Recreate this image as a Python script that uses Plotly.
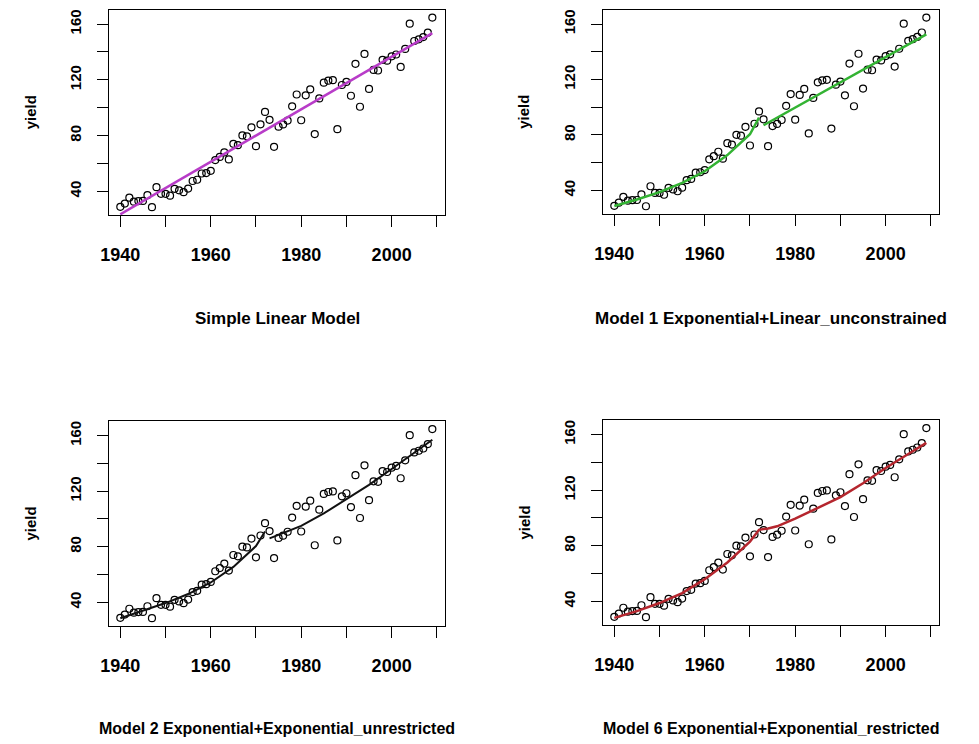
import plotly.graph_objects as go

# ---- observed data: yield by year ----
years = list(range(1940, 2010))
yield_obs = [28.9, 31.2, 35.4, 32.6, 33.0, 33.1, 37.2, 28.6, 43.0, 38.2,
             38.2, 36.9, 41.8, 40.7, 39.4, 42.0, 47.4, 48.3, 52.8, 53.1,
             54.7, 62.4, 64.7, 67.9, 62.9, 74.1, 73.1, 80.1, 79.5, 85.9,
             72.4, 88.1, 97.0, 91.3, 71.9, 86.4, 88.0, 90.8, 101.0, 109.5,
             91.0, 108.9, 113.2, 81.1, 106.7, 118.0, 119.4, 119.8, 84.6, 116.3,
             118.5, 108.6, 131.5, 100.7, 138.6, 113.5, 127.1, 126.7, 134.4, 133.8,
             136.9, 138.2, 129.3, 142.2, 160.3, 147.9, 149.1, 150.7, 153.9, 164.7]

# ---- fitted curves ----
lin_years = [1940, 2009]
lin_fit = [23.5, 153.5]

m1_years_a = [1940, 1945, 1950, 1955, 1960, 1965, 1970, 1972]
m1_fit_a = [28.8, 33.5, 38.8, 45.5, 53.8, 65.5, 80.5, 92.5]
m1_years_b = [1973, 2009]
m1_fit_b = [87.0, 152.5]

m2_years_a = [1940, 1945, 1950, 1955, 1960, 1965, 1970, 1972]
m2_fit_a = [28.6, 33.8, 39.5, 46.0, 54.3, 65.5, 80.5, 91.0]
m2_years_b = [1973, 1980, 1985, 1990, 1995, 2000, 2005, 2009]
m2_fit_b = [86.0, 95.0, 104.0, 114.0, 124.5, 136.0, 148.0, 157.0]

m6_years = [1940, 1945, 1950, 1955, 1960, 1965, 1970, 1972, 1974, 1976,
            1980, 1985, 1990, 1995, 2000, 2005, 2009]
m6_fit = [28.1, 33.0, 38.8, 46.0, 56.0, 68.0, 83.0, 91.5, 92.5, 94.0,
          99.5, 107.0, 115.0, 125.0, 136.0, 146.0, 154.0]

titles = ["Simple Linear Model",
          "Model 1 Exponential+Linear_unconstrained",
          "Model 2 Exponential+Exponential_unrestricted",
          "Model 6 Exponential+Exponential_restricted"]

x_ticks = [1940, 1950, 1960, 1970, 1980, 1990, 2000, 2010]
x_ticktext = ["1940", "", "1960", "", "1980", "", "2000", ""]
y_ticks = [40, 60, 80, 100, 120, 140, 160]
y_ticktext = ["40", "", "80", "", "120", "", "160"]

OFF = 8                      # page body margin
W, H = 979 - OFF, 744 - OFF  # figure size
FONT = "Liberation Sans, Arial, sans-serif"

fig = go.Figure()

# panel geometry in page pixels: (left, right, top, bottom)
panels = [(109, 445, 9.5, 215), (603, 939, 9.5, 214),
          (109, 445, 421, 626), (603, 939, 420, 625)]

fits = [
    [(lin_years, lin_fit, "#B83CC8", 2.5)],
    [(m1_years_a, m1_fit_a, "#33B333", 2.5), (m1_years_b, m1_fit_b, "#33B333", 2.5)],
    [(m2_years_a, m2_fit_a, "#111111", 2.0), (m2_years_b, m2_fit_b, "#111111", 2.0)],
    [(m6_years, m6_fit, "#B5262E", 2.5)],
]

def px(v):
    return v / W

def py(v):
    return 1 - v / H

for i, (l, r, t, b) in enumerate(panels):
    l, r, t, b = l - OFF, r - OFF, t - OFF, b - OFF
    n = i + 1
    xa = "x" if n == 1 else f"x{n}"
    ya = "y" if n == 1 else f"y{n}"
    fig.add_trace(go.Scatter(
        x=years, y=yield_obs, mode="markers", xaxis=xa, yaxis=ya,
        marker=dict(symbol="circle-open", size=7, color="black",
                    line=dict(width=1.2, color="black")),
        showlegend=False, hoverinfo="skip", cliponaxis=False))
    for xs, ys, col, w in fits[i]:
        fig.add_trace(go.Scatter(
            x=xs, y=ys, mode="lines", xaxis=xa, yaxis=ya,
            line=dict(color=col, width=w), showlegend=False))

    axkey = "xaxis" if n == 1 else f"xaxis{n}"
    aykey = "yaxis" if n == 1 else f"yaxis{n}"
    common = dict(showline=True, mirror=True, linecolor="black", linewidth=1,
                  showgrid=False, zeroline=False, ticks="outside", ticklen=11,
                  tickwidth=1, tickcolor="black", automargin=False)
    fig.update_layout(**{
        axkey: dict(domain=[px(l), px(r)], range=[1937.5, 2011.8],
                    tickvals=x_ticks, ticktext=x_ticktext,
                    tickfont=dict(family=FONT, size=18, color="black", weight="bold"),
                    ticklabelstandoff=12, anchor=ya, **common),
        aykey: dict(domain=[py(b), py(t)], range=[23.0, 170.5],
                    tickvals=y_ticks, ticktext=y_ticktext, tickangle=-90,
                    tickfont=dict(family=FONT, size=15, color="black", weight="bold"),
                    ticklabelstandoff=10, anchor=xa, ticklabeloverflow="allow",
                    **common),
    })

    # y-axis title
    fig.add_annotation(text="yield", x=px(l - 79), y=py((t + b) / 2),
                       xref="paper", yref="paper", showarrow=False, textangle=-90,
                       font=dict(family=FONT, size=15, color="black", weight="bold"),
                       xanchor="center", yanchor="middle")
    # panel title below
    ty = (318 if i < 2 else 728) - OFF
    fig.add_annotation(text=titles[i], x=px((l + r) / 2), y=py(ty),
                       xref="paper", yref="paper", showarrow=False,
                       font=dict(family=FONT, size=17 if i < 2 else 16,
                                 color="black", weight="bold"),
                       xanchor="center", yanchor="middle")

fig.update_layout(width=W, height=H, margin=dict(l=0, r=0, t=0, b=0),
                  paper_bgcolor="white", plot_bgcolor="white")

fig.write_html("out.html")
